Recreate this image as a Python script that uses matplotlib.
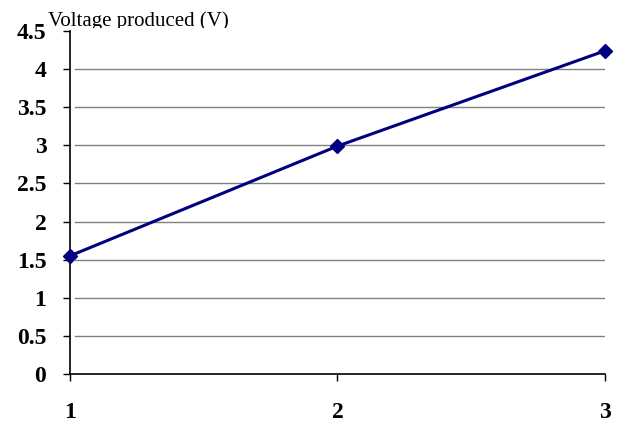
import matplotlib.pyplot as plt
import matplotlib
from matplotlib.transforms import Bbox

matplotlib.rcParams['font.family'] = 'Liberation Serif'

x_vals = [1, 2, 3]
voltage = [1.55, 2.99, 4.24]
y_ticks = [0, 0.5, 1, 1.5, 2, 2.5, 3, 3.5, 4, 4.5]
y_labels = ['0', '0.5', '1', '1.5', '2', '2.5', '3', '3.5', '4', '4.5']

fig = plt.figure(figsize=(6.22, 4.25), dpi=100)
ax = fig.add_axes([0.1125, 0.12, 0.86, 0.807])

# grid lines (not touching the left axis)
for yv in y_ticks[1:-1]:
    ax.plot([1.02, 2.995], [yv, yv], color='#808080', lw=1, zorder=1)

ax.plot(x_vals, voltage, color='#000080', lw=2.2, marker='D', ms=7,
        zorder=3, clip_on=False)

ax.set_xlim(1, 3)
ax.set_ylim(0, 4.5)
ax.set_xticks(x_vals)
ax.set_xticklabels(['1', '2', '3'])
ax.set_yticks(y_ticks)
ax.set_yticklabels(y_labels)
for lab in ax.get_xticklabels() + ax.get_yticklabels():
    lab.set_fontweight('bold')
    lab.set_fontsize(17)
ax.tick_params(axis='y', direction='out', length=5, width=1, pad=12)
ax.tick_params(axis='x', direction='out', length=5, width=1, pad=15)

ax.spines['top'].set_visible(False)
ax.spines['right'].set_visible(False)
ax.spines['left'].set_linewidth(1.2)
ax.spines['bottom'].set_linewidth(1.2)

# title label, cut off at the bottom like the original
t = fig.text(48 / 622, 1 - 26 / 425, 'Voltage produced (V)', fontsize=15,
             ha='left', va='baseline')
H = fig.bbox.height
t.set_clip_box(Bbox.from_extents(0, H * (1 - 28 / 425), fig.bbox.width, H))
t.set_clip_on(True)

fig.savefig('out.png', dpi=100)
